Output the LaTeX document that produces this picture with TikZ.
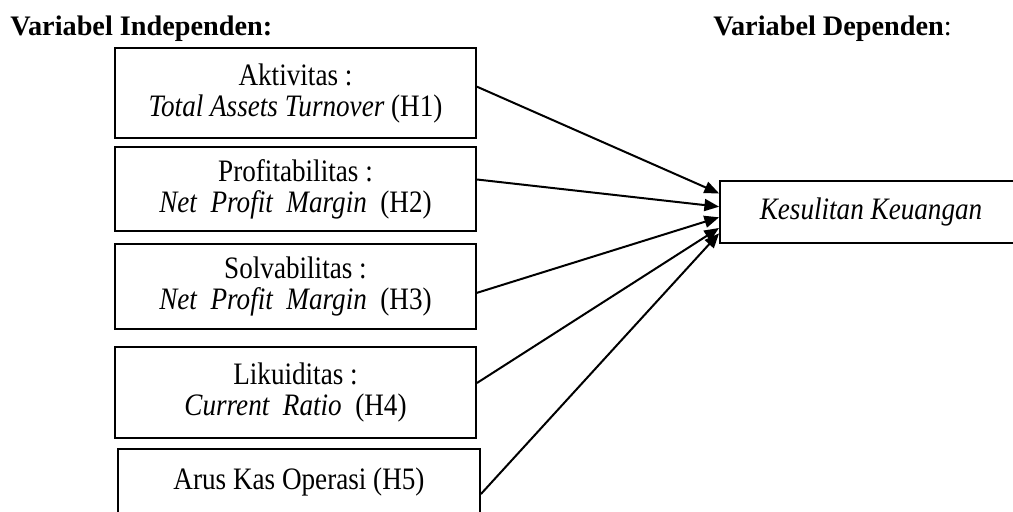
\documentclass[tikz,border=0pt]{standalone}
\usepackage{fontspec}
\setmainfont{Liberation Serif}
\newfontfamily\isifont[FakeStretch=0.87]{Liberation Serif}
\usetikzlibrary{arrows.meta}

\begin{document}
\begin{tikzpicture}[x=0.75pt,y=0.75pt,yscale=-1,xscale=1,
	varbox/.style={draw,line width=1.4pt,inner sep=0pt,align=center,minimum width=270.75pt,font=\isifont\fontsize{23.4}{23.25}\selectfont},
	judul/.style={anchor=base west,inner sep=0pt,font=\fontsize{21.2}{24}\selectfont},
	panah/.style={line width=1.5pt,-{Triangle[length=11pt,width=9pt]}}]
	\useasboundingbox (0,0) rectangle (1013,511);
	\clip (0,0) rectangle (1013,511);

	% Text Node
	\node [judul] (judulIndep) at (10,35) {\textbf{Variabel Independen:}};
	% Text Node
	\node [judul] (judulDep) at (713,35) {\textbf{Variabel Dependen}:};

	%Shape: Rectangle [id:aktivitas]
	\node [varbox,minimum height=67.5pt] (aktivitas) at (295.5,93) {Aktivitas :\\ \textit{Total Assets Turnover} (H1)};
	%Shape: Rectangle [id:profit]
	\node [varbox,minimum height=63pt] (profit) at (295.5,189) {Profitabilitas :\\ \textit{Net\ \ Profit\ \ Margin}\ \ (H2)};
	%Shape: Rectangle [id:solva]
	\node [varbox,minimum height=63.75pt] (solva) at (295.5,286.5) {Solvabilitas :\\ \textit{Net\ \ Profit\ \ Margin}\ \ (H3)};
	%Shape: Rectangle [id:likuid]
	\node [varbox,minimum height=68.25pt] (likuid) at (295.5,392.5) {Likuiditas :\\ \textit{Current\ \ Ratio}\ \ (H4)};
	%Shape: Rectangle [id:aruskas]
	\node [varbox,minimum width=271.5pt,minimum height=67.5pt] (aruskas) at (299,494) {Arus Kas Operasi (H5)\\ \mbox{}};

	%Shape: Rectangle [id:kesulitan]
	\node [varbox,minimum width=226.5pt,minimum height=46.5pt] (kesulitan) at (871,212) {\textit{Kesulitan Keuangan}};

	%Straight Lines
	\draw [panah] (aktivitas.2) -- (kesulitan.173);
	\draw [panah] (profit.3) -- (kesulitan.178);
	\draw [panah] (solva.-2) -- (kesulitan.182);
	\draw [panah] (likuid.3) -- (kesulitan.186);
	\draw [panah] (aruskas.east) -- (kesulitan.188);

\end{tikzpicture}
\end{document}
